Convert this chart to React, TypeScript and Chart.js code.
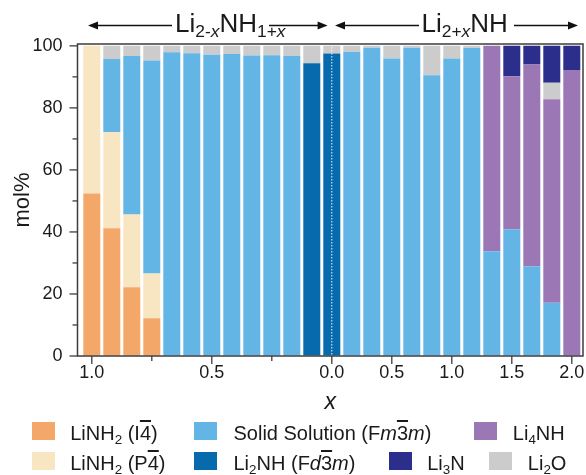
import React, { useEffect, useRef } from "react";
import { Chart, registerables } from "chart.js";

Chart.register(...registerables);

// ---- data ----
const categories = [
  "1.00", "0.92", "0.83", "0.75", "0.67", "0.58", "0.50", "0.42", "0.33", "0.25", "0.17", "0.08",
  "0.00",
  "0.17", "0.33", "0.50", "0.67", "0.83", "1.00", "1.17", "1.33", "1.50", "1.67", "1.83", "2.00",
];
const xTickIndices = [0, 3, 6, 9, 12, 15, 18, 21, 24];
const xTickLabels = ["1.0", "", "0.5", "", "0.0", "0.5", "1.0", "1.5", "2.0"];
const yTickValues = [0, 10, 20, 30, 40, 50, 60, 70, 80, 90, 100];
const yLabelValues = [0, 20, 40, 60, 80, 100];

const liNH2I4 = [52.4, 41.2, 22.2, 12.2, 0, 0, 0, 0, 0, 0, 0, 0, 0, 0, 0, 0, 0, 0, 0, 0, 0, 0, 0, 0, 0];
const liNH2P4 = [47.6, 31.0, 23.4, 14.4, 0, 0, 0, 0, 0, 0, 0, 0, 0, 0, 0, 0, 0, 0, 0, 0, 0, 0, 0, 0, 0];
const solidSolution = [0, 23.6, 51.1, 68.7, 97.9, 97.6, 97.1, 97.4, 96.9, 97.0, 96.8, 0, 0, 98.0, 99.4, 95.9, 99.4, 90.5, 95.9, 99.3, 33.8, 40.9, 28.9, 17.2, 0];
const li2NH = [0, 0, 0, 0, 0, 0, 0, 0, 0, 0, 0, 94.4, 97.5, 0, 0, 0, 0, 0, 0, 0, 0, 0, 0, 0, 0];
const li4NH = [0, 0, 0, 0, 0, 0, 0, 0, 0, 0, 0, 0, 0, 0, 0, 0, 0, 0, 0, 0, 66.2, 49.3, 65.1, 65.6, 92.2];
const li2O = [0, 4.2, 3.3, 4.7, 2.1, 2.4, 2.9, 2.6, 3.1, 3.0, 3.2, 5.6, 2.5, 2.0, 0.6, 4.1, 0.6, 9.5, 4.1, 0.7, 0, 0, 0, 5.3, 0];
const li3N = [0, 0, 0, 0, 0, 0, 0, 0, 0, 0, 0, 0, 0, 0, 0, 0, 0, 0, 0, 0, 0, 9.8, 6.0, 11.9, 7.8];

const COLORS = {
  i4: "#F3A86A",
  p4: "#F8E5C1",
  ss: "#63B5E6",
  li2nh: "#076AAD",
  li4nh: "#9B77B5",
  li3n: "#2B2E8B",
  li2o: "#CCCCCC",
};

const FONT = "'Liberation Sans', Arial, Helvetica, sans-serif";
const TEXT = "#1a1a1a";
const AXIS = "#3d3d3d";

const series = [
  { name: "LiNH2 (I-4)", values: liNH2I4, color: COLORS.i4 },
  { name: "LiNH2 (P-4)", values: liNH2P4, color: COLORS.p4 },
  { name: "Solid Solution (Fm-3m)", values: solidSolution, color: COLORS.ss },
  { name: "Li2NH (Fd-3m)", values: li2NH, color: COLORS.li2nh },
  { name: "Li4NH", values: li4NH, color: COLORS.li4nh },
  { name: "Li2O", values: li2O, color: COLORS.li2o },
  { name: "Li3N", values: li3N, color: COLORS.li3n },
];

const decorPlugin = {
  id: "decor",
  afterDatasetsDraw(chart: any) {
    const { ctx, chartArea: a, scales } = chart;
    const xs = scales.x;
    const x0 = xs.getPixelForValue(categories.indexOf("0.00"));
    ctx.save();
    ctx.strokeStyle = "rgba(255,255,255,0.95)";
    ctx.lineWidth = 1;
    ctx.setLineDash([1.5, 1.5]);
    ctx.beginPath();
    ctx.moveTo(x0, a.top);
    ctx.lineTo(x0, a.bottom);
    ctx.stroke();
    ctx.restore();
  },
  afterDraw(chart: any) {
    const { ctx, chartArea: a, scales } = chart;
    const xs = scales.x;
    const ys = scales.y;
    ctx.save();
    ctx.strokeStyle = AXIS;
    ctx.lineWidth = 1.5;
    ctx.strokeRect(a.left, a.top, a.right - a.left, a.bottom - a.top);
    const line = (x1: number, y1: number, x2: number, y2: number) => {
      ctx.beginPath();
      ctx.moveTo(x1, y1);
      ctx.lineTo(x2, y2);
      ctx.stroke();
    };
    ctx.lineWidth = 1.3;
    yTickValues.forEach((v) => {
      const y = ys.getPixelForValue(v);
      const len = yLabelValues.includes(v) ? 8 : 5;
      line(a.left - len, y, a.left, y);
    });
    xTickIndices.forEach((idx, i) => {
      const x = xs.getPixelForValue(idx);
      const len = xTickLabels[i] ? 8 : 5;
      line(x, a.bottom, x, a.bottom + len);
    });

    // arrows of the top annotation
    ctx.strokeStyle = "#111";
    ctx.fillStyle = "#111";
    ctx.lineWidth = 1.4;
    const ay = 25.5;
    const head = (tip: number, dir: number) => {
      ctx.beginPath();
      ctx.moveTo(tip, ay);
      ctx.lineTo(tip - dir * 10, ay - 4);
      ctx.lineTo(tip - dir * 10, ay + 4);
      ctx.closePath();
      ctx.fill();
    };
    const leftTip = xs.getPixelForValue(-0.19);
    const midLeftTip = xs.getPixelForValue(11.79);
    const midRightTip = xs.getPixelForValue(12.16);
    const rightTip = xs.getPixelForValue(24.31);
    line(leftTip + 4, ay, 172, ay);
    head(leftTip, -1);
    line(269, ay, midLeftTip - 4, ay);
    head(midLeftTip, 1);
    line(midRightTip + 4, ay, 419, ay);
    head(midRightTip, -1);
    line(514, ay, rightTip - 4, ay);
    head(rightTip, 1);
    ctx.restore();
  },
};

const Sub = ({ children }: { children: React.ReactNode }) => (
  <span style={{ fontSize: "0.67em", position: "relative", top: "0.3em" }}>{children}</span>
);
const Bar = ({ children }: { children: React.ReactNode }) => (
  <span style={{ textDecoration: "overline" }}>{children}</span>
);
const I = ({ children }: { children: React.ReactNode }) => (
  <span style={{ fontStyle: "italic" }}>{children}</span>
);

const legendItems: { color: string; boxX: number; textX: number; row: number; label: React.ReactNode }[] = [
  { color: COLORS.i4, boxX: 32, textX: 70.2, row: 0, label: <>LiNH<Sub>2</Sub> (I<Bar>4</Bar>)</> },
  { color: COLORS.ss, boxX: 194, textX: 233.5, row: 0, label: <>Solid Solution (F<I>m</I><Bar>3</Bar><I>m</I>)</> },
  { color: COLORS.li4nh, boxX: 474.3, textX: 512.8, row: 0, label: <>Li<Sub>4</Sub>NH</> },
  { color: COLORS.p4, boxX: 32, textX: 70.2, row: 1, label: <>LiNH<Sub>2</Sub> (P<Bar>4</Bar>)</> },
  { color: COLORS.li2nh, boxX: 194, textX: 233.5, row: 1, label: <>Li<Sub>2</Sub>NH (F<I>d</I><Bar>3</Bar><I>m</I>)</> },
  { color: COLORS.li3n, boxX: 389.3, textX: 427.2, row: 1, label: <>Li<Sub>3</Sub>N</> },
  { color: COLORS.li2o, boxX: 489.3, textX: 527.8, row: 1, label: <>Li<Sub>2</Sub>O</> },
];

export default function App() {
  const canvasRef = useRef<HTMLCanvasElement | null>(null);

  useEffect(() => {
    const canvas = canvasRef.current;
    if (!canvas) return;
    const chart = new Chart(canvas, {
      type: "bar",
      data: {
        datasets: series.map((s) => ({
          label: s.name,
          data: s.values.map((v, i) => ({ x: i, y: v })),
          backgroundColor: s.color,
          borderWidth: 0,
          categoryPercentage: 1,
          barPercentage: 0.85,
        })),
      } as any,
      options: {
        responsive: false,
        animation: false,
        events: [],
        layout: { padding: { top: 44, right: 3, left: 0, bottom: 0 } },
        plugins: { legend: { display: false }, tooltip: { enabled: false } },
        scales: {
          x: {
            type: "linear",
            stacked: true,
            offset: false,
            min: -0.715,
            max: 24.56,
            grid: { display: true, offset: false, drawOnChartArea: false, drawTicks: true, tickLength: 6, color: "rgba(0,0,0,0)" },
            border: { display: false },
            afterBuildTicks: (s: any) => {
              s.ticks = xTickIndices.map((v) => ({ value: v }));
            },
            ticks: {
              autoSkip: false,
              maxRotation: 0,
              padding: 0,
              color: TEXT,
              font: { family: FONT, size: 18 },
              callback: (_v: any, i: number) => xTickLabels[i],
            },
            title: {
              display: true,
              text: "x",
              color: TEXT,
              font: { family: FONT, size: 23, style: "italic" },
              padding: { top: 0, bottom: 59 },
            },
            afterFit: (s: any) => {
              s.height = 119;
              s.paddingLeft = 0;
              s.paddingRight = 0;
            },
          },
          y: {
            type: "linear",
            stacked: true,
            min: 0,
            max: 100.6,
            grid: { display: true, drawOnChartArea: false, drawTicks: true, tickLength: 8, color: "rgba(0,0,0,0)" },
            border: { display: false },
            afterBuildTicks: (s: any) => {
              s.ticks = yLabelValues.map((v) => ({ value: v }));
            },
            ticks: {
              padding: 7,
              color: TEXT,
              font: { family: FONT, size: 18 },
              callback: (v: any) => String(v),
            },
            title: {
              display: true,
              text: "mol%",
              color: TEXT,
              font: { family: FONT, size: 22 },
              padding: { top: 10, bottom: 0 },
            },
            afterFit: (s: any) => {
              s.width = 77.5;
            },
          },
        },
      } as any,
      plugins: [decorPlugin],
    });
    return () => chart.destroy();
  }, []);

  return (
    <div
      style={{
        position: "absolute",
        left: 0,
        top: 0,
        width: 586,
        height: 475,
        background: "#fff",
        fontFamily: FONT,
        color: TEXT,
        overflow: "hidden",
      }}
    >
      <canvas
        ref={canvasRef}
        width={586}
        height={475}
        style={{ position: "absolute", left: 0, top: 0, width: 586, height: 475 }}
      />
      <div style={{ position: "absolute", left: 175, top: 9.7, fontSize: 26, lineHeight: 1, whiteSpace: "nowrap" }}>
        Li<Sub>2-<I>x</I></Sub>NH<Sub>1+<I>x</I></Sub>
      </div>
      <div style={{ position: "absolute", left: 421.5, top: 9.7, fontSize: 26, lineHeight: 1, whiteSpace: "nowrap" }}>
        Li<Sub>2+<I>x</I></Sub>NH
      </div>
      {legendItems.map((it, k) => (
        <React.Fragment key={k}>
          <div
            style={{
              position: "absolute",
              left: it.boxX,
              top: 422.3 + it.row * 30,
              width: 23,
              height: 18,
              background: it.color,
            }}
          />
          <div
            style={{
              position: "absolute",
              left: it.textX,
              top: 422.9 + it.row * 30,
              fontSize: 20,
              lineHeight: 1,
              whiteSpace: "nowrap",
            }}
          >
            {it.label}
          </div>
        </React.Fragment>
      ))}
    </div>
  );
}
